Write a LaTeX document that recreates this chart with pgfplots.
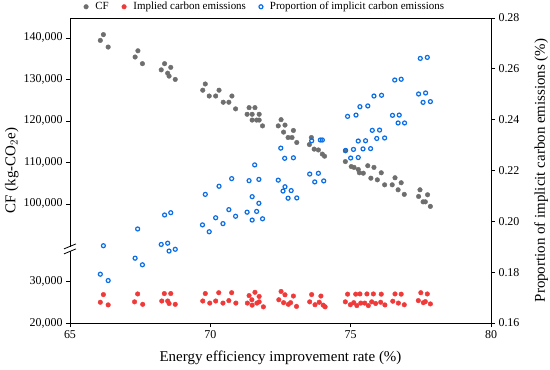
\documentclass[border=0pt]{standalone}
\usepackage{pgfplots}
\pgfplotsset{compat=1.18}
\usepackage{fontspec}
\setmainfont{Liberation Serif}
\definecolor{cfgray}{RGB}{110,110,110}
\definecolor{icred}{RGB}{240,58,58}
\definecolor{prblue}{RGB}{10,110,230}
\begin{document}
\begin{tikzpicture}
\path[use as bounding box] (-70bp,-47bp) rectangle (480bp,323bp);
\begin{axis}[
  at={(0,0)}, anchor=south west,
  width=421bp, height=305bp, scale only axis,
  xmin=65, xmax=80,
  ymin=20, ymax=144.8,
  y coord trafo/.code={\pgfmathparse{#1>60 ? #1-51.3 : #1}},
  y coord inv trafo/.code={\pgfmathparse{#1>38 ? #1+51.3 : #1}},
  xtick={65,70,75,80},
  ytick={20,30,100,110,120,130,140},
  yticklabels={{20,000},{30,000},{100,000},{110,000},{120,000},{130,000},{140,000}},
  xtick pos=lower, ytick pos=left,
  tick align=outside,
  major tick length=4bp,
  /pgf/number format/assume math mode=true,
  ticklabel style={font=\fontsize{12}{12}\selectfont},
  label style={font=\fontsize{15}{15}\selectfont},
  xlabel={Energy efficiency improvement rate (\%)},
  ylabel={CF (kg-CO$_2$e)},
  xlabel style={at={(axis description cs:0.5,-0.115)}, anchor=center},
  ylabel style={at={(axis description cs:-0.138,0.5)}, anchor=center},
  axis line style={line width=0.8bp},
  every tick/.style={line width=0.8bp, black},
  clip=false,
  legend columns=-1,
  legend style={at={(axis description cs:0.463,1.008)}, anchor=south, draw=none, fill=none,
    font=\fontsize{11}{11}\selectfont,
    /tikz/every odd column/.append style={column sep=5bp},
    /tikz/every even column/.append style={column sep=11bp}},
]
\addplot[only marks, mark=*, mark size=2.3bp, color=cfgray] table {
66.19 140.8
66.08 139.4
66.36 137.8
67.42 136.9
67.32 135.4
67.58 133.8
68.37 133.8
68.59 132.9
68.25 132.3
68.48 131.5
68.53 130.8
68.75 130.0
69.82 128.9
69.73 127.4
70.31 127.4
69.96 126.0
70.19 126.0
70.77 126.0
70.46 124.5
70.66 124.5
70.90 122.9
71.38 123.2
71.59 123.2
71.31 121.6
71.49 121.6
71.74 121.6
71.49 120.2
71.65 120.2
71.74 120.2
71.86 118.8
72.52 120.3
72.42 118.8
72.66 119.0
72.61 117.3
72.96 117.7
72.77 116.0
72.91 116.0
73.08 114.8
73.60 116.0
73.53 114.3
73.70 113.2
73.85 113.0
73.99 112.0
74.07 111.5
74.81 112.8
74.81 110.2
75.02 109.0
75.12 108.8
75.27 108.3
75.31 107.5
75.45 107.4
75.61 109.2
75.83 108.8
75.72 106.2
75.95 105.8
76.09 107.5
76.21 104.6
76.48 104.6
76.58 106.3
76.80 105.1
76.69 103.4
76.91 102.3
77.47 103.4
77.42 101.8
77.74 102.2
77.58 100.5
77.66 100.5
77.84 99.4
};
\addlegendentry{CF}
\addplot[only marks, mark=*, mark size=2.3bp, color=icred] table {
66.19 26.85
66.08 25.0
66.36 24.36
67.41 27.0
67.30 25.1
67.59 24.5
68.36 27.1
68.59 27.1
68.27 25.3
68.48 25.3
68.53 24.7
68.75 24.5
69.82 27.1
69.73 25.3
69.98 24.8
70.19 25.3
70.30 27.3
70.45 24.8
70.76 27.3
70.66 25.4
70.91 24.8
71.38 26.6
71.59 27.4
71.74 26.4
71.48 25.6
71.32 24.8
71.49 24.3
71.66 24.8
71.74 25.1
71.89 23.9
72.52 27.6
72.66 26.8
72.44 25.6
72.61 24.9
72.78 24.5
72.96 26.5
72.86 24.9
73.07 24.0
73.61 26.85
73.54 25.1
73.73 24.4
73.88 25.0
73.94 26.5
74.02 24.3
74.09 23.9
74.89 26.95
74.81 25.1
74.99 24.4
75.18 26.95
75.33 27.0
75.11 24.9
75.22 24.2
75.36 24.8
75.50 24.8
75.58 27.0
75.63 24.2
75.81 27.0
75.75 25.1
75.89 24.7
76.07 25.0
76.09 26.95
76.22 24.35
76.58 27.0
76.50 25.25
76.70 24.8
76.80 26.95
76.91 24.4
77.50 27.3
77.41 25.4
77.59 24.9
77.73 27.0
77.66 25.15
77.84 24.6
};
\addlegendentry{Implied carbon emissions}
\addlegendimage{only marks, mark=o, mark size=2.0bp, line width=1.2bp, color=prblue}
\addlegendentry{Proportion of implicit carbon emissions}
% axis break marks
\fill[white] ([xshift=-3bp,yshift=-2bp]rel axis cs:0,0.243) rectangle ([xshift=3bp,yshift=2bp]rel axis cs:0,0.243);
\draw[line width=0.8bp] ([xshift=-6bp,yshift=-5bp]rel axis cs:0,0.243) -- ++(12bp,5bp);
\draw[line width=0.8bp] ([xshift=-6bp,yshift=0bp]rel axis cs:0,0.243) -- ++(12bp,5bp);
\end{axis}
\begin{axis}[
  at={(0,0)}, anchor=south west,
  width=421bp, height=305bp, scale only axis,
  xmin=65, xmax=80,
  ymin=0.16, ymax=0.28,
  axis y line*=right, axis x line=none,
  ytick={0.16,0.18,...,0.281},
  yticklabel style={/pgf/number format/.cd, fixed, fixed zerofill, precision=2},
  tick align=outside,
  major tick length=4bp,
  /pgf/number format/assume math mode=true,
  ticklabel style={font=\fontsize{12}{12}\selectfont},
  label style={font=\fontsize{15}{15}\selectfont},
  ylabel={Proportion of implicit carbon emissions (\%)},
  ylabel style={at={(axis description cs:1.119,0.5)}, anchor=center, rotate=0},
  axis line style={line width=0.8bp},
  every tick/.style={line width=0.8bp, black},
]
\addplot[only marks, mark=o, mark size=2.0bp, line width=1.2bp, color=prblue] table {
66.19 0.1904
66.08 0.1792
66.36 0.1767
67.41 0.1970
67.32 0.1855
67.58 0.1829
68.37 0.2025
68.59 0.2034
68.25 0.1909
68.48 0.1914
68.53 0.1883
68.75 0.1890
69.82 0.2106
70.31 0.2138
70.76 0.2168
69.72 0.1986
69.96 0.1959
70.19 0.2014
70.45 0.1991
70.66 0.2046
70.90 0.2020
71.58 0.2222
71.38 0.2160
71.73 0.2165
71.49 0.2097
71.73 0.2071
71.31 0.2036
71.65 0.2039
71.49 0.2005
71.86 0.2010
72.51 0.2288
72.65 0.2248
72.96 0.2250
72.42 0.2162
72.66 0.2136
72.59 0.2119
72.88 0.2121
72.77 0.2091
73.08 0.2092
73.61 0.2317
73.92 0.2320
73.99 0.2320
73.54 0.2186
73.85 0.2189
73.72 0.2155
74.04 0.2159
74.89 0.2413
75.19 0.2418
75.33 0.2451
75.61 0.2454
75.83 0.2493
76.10 0.2496
76.57 0.2556
76.80 0.2559
77.48 0.2641
77.73 0.2645
77.42 0.2501
77.67 0.2505
77.58 0.2468
77.84 0.2471
76.49 0.2417
76.73 0.2418
76.69 0.2387
76.92 0.2387
75.77 0.2358
76.03 0.2359
75.93 0.2326
76.21 0.2328
75.27 0.2316
75.53 0.2317
75.44 0.2285
75.71 0.2286
74.82 0.2279
75.10 0.2283
75.00 0.2249
75.27 0.2251
};
\end{axis}
\end{tikzpicture}
\end{document}
